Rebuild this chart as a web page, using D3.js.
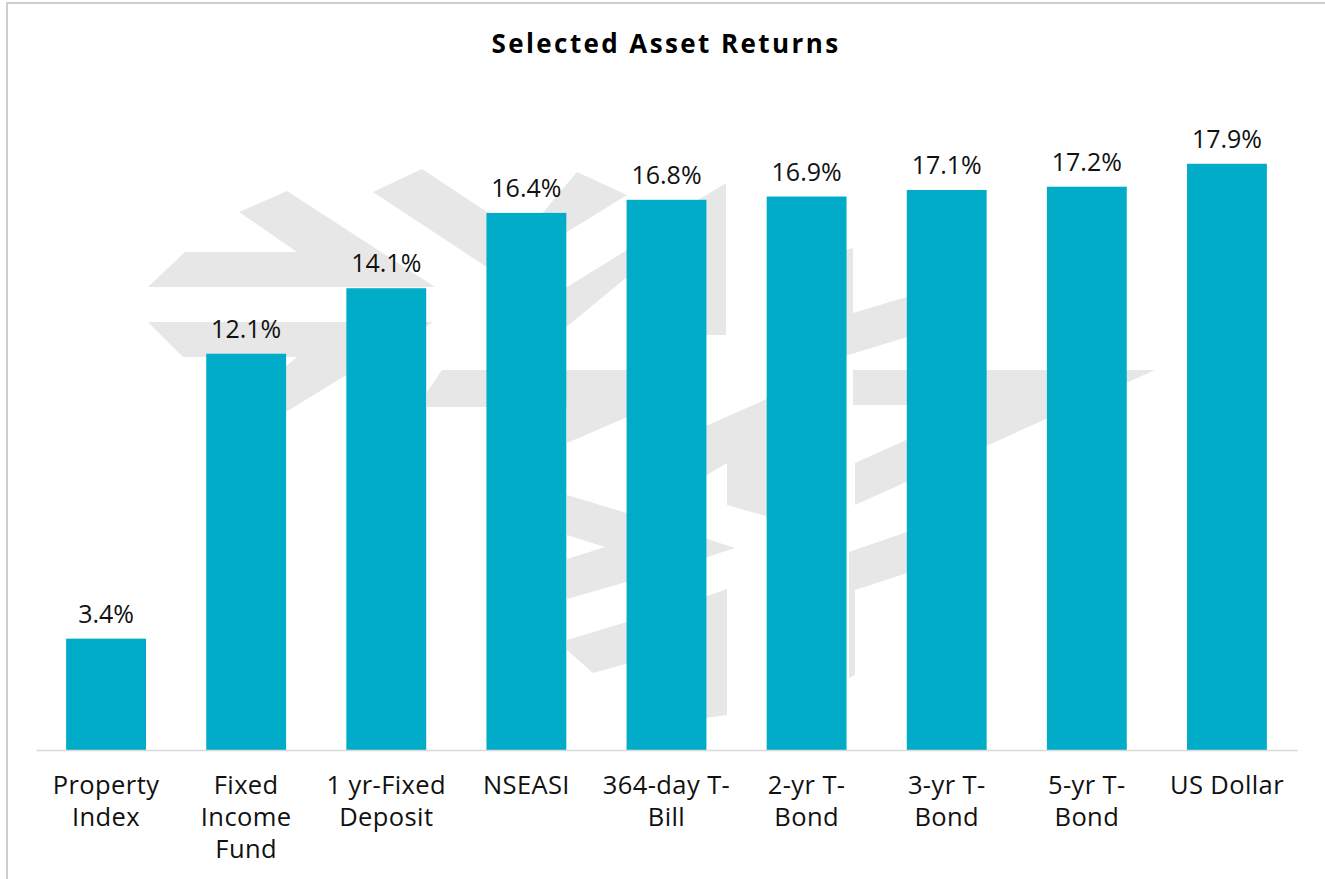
<!DOCTYPE html>
<html>
<head>
<meta charset="utf-8">
<script src="https://cdn.jsdelivr.net/npm/d3@7"></script>
<style>
  body { margin: 0; background: #fff; }
  svg { display: block; }
  svg text { font-family: "Open Sans", "DejaVu Sans", sans-serif; }
</style>
</head>
<body>
<div class="chart"></div>
<script>
// Data
const categories = ["Property\nIndex", "Fixed\nIncome\nFund", "1 yr-Fixed\nDeposit", "NSEASI",
  "364-day T-\nBill", "2-yr T-\nBond", "3-yr T-\nBond", "5-yr T-\nBond", "US Dollar"];
const returns = [3.4, 12.1, 14.1, 16.4, 16.8, 16.9, 17.1, 17.2, 17.9];
const title = "Selected Asset Returns";

// Background logo watermark (page coordinates)
const watermark = [
  [[239,212],[287,191],[435,287],[148,287],[185,252],[297,252]],
  [[148,322],[433,322],[240,440],[215,425],[297,357],[183,357]],
  [[373,192],[422,169],[520,234],[520,289]],
  [[520,240],[577,172],[627,195],[567,232],[540,265]],
  [[520,316],[627,250],[627,297],[660,276],[660,250],[520,365]],
  [[690,205],[726,183],[726,335],[690,335]],
  [[845,250],[853,248],[853,313],[930,290],[930,330],[845,356]],
  [[853,370],[1155,370],[855,505],[855,463],[984,405],[853,405]],
  [[849,552],[950,517],[950,559],[855,590],[855,675],[849,678]],
  [[690,433],[769,398],[769,517],[727,505],[727,463],[690,485]],
  [[680,530],[735,548],[680,566]],
  [[690,602],[727,589],[727,715],[690,720]],
  [[442,370],[660,370],[660,403],[567,443],[567,407],[427,407],[427,392]],
  [[567,495],[640,517],[640,578],[567,599],[567,559],[605,547],[567,535]],
  [[567,640],[640,618],[640,660],[593,673],[567,650]]
];

const W = 1325, H = 879;
const margin = {top: 95, left: 36, right: 28, bottom: 129};

const svg = d3.select(".chart").append("svg")
  .attr("width", W)
  .attr("height", H);

// chart border
svg.append("rect")
  .attr("x", 7).attr("y", 3)
  .attr("width", W + 20).attr("height", H + 20)
  .attr("fill", "#fff")
  .attr("stroke", "#bfbfbf")
  .attr("stroke-width", 1.5);

// watermark
svg.append("g").selectAll("polygon")
  .data(watermark)
  .join("polygon")
  .attr("points", d => d.map(p => p.join(",")).join(" "))
  .attr("fill", "#e7e7e7");

// Scales
const xScale = d3.scaleBand()
  .domain(categories)
  .range([margin.left, W - margin.right])
  .paddingInner(0.43)
  .paddingOuter(0.215);

const yScale = d3.scaleLinear()
  .domain([0, 20])
  .range([H - margin.bottom, margin.top]);

// Bars
svg.append("g").selectAll("rect")
  .data(returns)
  .join("rect")
  .attr("x", (d, i) => xScale(categories[i]))
  .attr("y", d => yScale(d))
  .attr("width", xScale.bandwidth())
  .attr("height", d => yScale(0) - yScale(d))
  .attr("fill", "#00acc8");

// Value labels
svg.append("g").selectAll("text")
  .data(returns)
  .join("text")
  .attr("x", (d, i) => xScale(categories[i]) + xScale.bandwidth() / 2)
  .attr("y", d => yScale(d) - 16)
  .attr("text-anchor", "middle")
  .attr("font-size", 25)
  .attr("fill", "#111")
  .text(d => d.toFixed(1) + "%");

// X axis
const xAxis = d3.axisBottom(xScale).tickSize(0).tickFormat("");
const xAxisChart = svg.append("g")
  .attr("class", "axis x-axis")
  .attr("transform", `translate(0, ${yScale(0)})`)
  .call(xAxis);
xAxisChart.select(".domain")
  .attr("stroke", "#d9d9d9")
  .attr("stroke-width", 1.5);

// multi-line category labels
xAxisChart.selectAll(".tick").each(function(d) {
  const t = d3.select(this).append("text")
    .attr("text-anchor", "middle")
    .attr("fill", "#111")
    .attr("font-size", 25.5)
    .attr("letter-spacing", 0.4)
    .attr("y", 44);
  d.split("\n").forEach((line, i) => {
    t.append("tspan").attr("x", 0).attr("dy", i === 0 ? 0 : 32).text(line);
  });
});

// Title
svg.append("text")
  .attr("x", 666)
  .attr("y", 53)
  .attr("text-anchor", "middle")
  .attr("font-size", 26)
  .attr("font-weight", "bold")
  .attr("letter-spacing", 2.4)
  .attr("fill", "#000")
  .text(title);
</script>
</body>
</html>
